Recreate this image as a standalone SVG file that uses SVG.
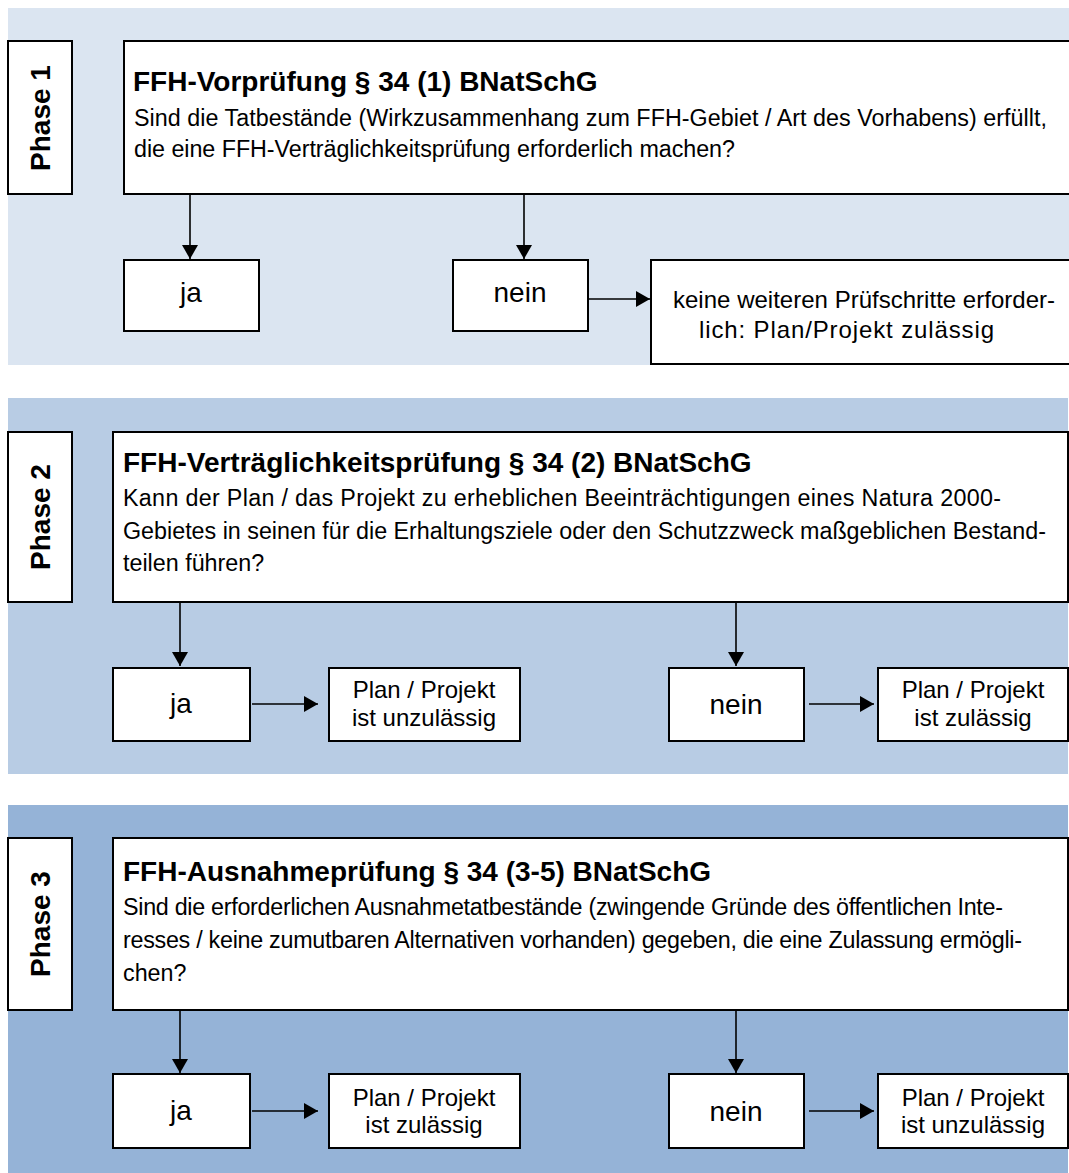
<svg xmlns="http://www.w3.org/2000/svg" width="1069" height="1173" viewBox="0 0 1069 1173">
<style>
.box{fill:#fff;stroke:#000;stroke-width:2}
.t{font-family:"Liberation Sans",Arial,sans-serif;fill:#000}
.title{font-size:28px;font-weight:bold}
.body{font-size:23.3px}
.yn{font-size:28px;text-anchor:middle}
.res{font-size:24px;text-anchor:middle}
.kw{font-size:24px}
.ph{font-size:28px;font-weight:bold;text-anchor:middle}
.con line{stroke:#000;stroke-width:1.6;marker-end:url(#ah)}
</style>
<defs>
<marker id="ah" markerUnits="userSpaceOnUse" markerWidth="14" markerHeight="16" viewBox="0 0 14 16" refX="14" refY="8" orient="auto">
<path d="M0,0 L14,8 L0,16 Z" fill="#000"/>
</marker>
</defs>
<g id="panels">
<rect x="8" y="8" width="1061" height="357" fill="#DBE5F1"/>
<rect x="8" y="398" width="1060" height="376" fill="#B8CCE4"/>
<rect x="8" y="805" width="1060" height="368" fill="#95B3D7"/>
</g>
<g id="phase1-label"><rect class="box" x="8" y="41" width="64" height="153"/><text class="t ph" transform="translate(50,118) rotate(-90)">Phase 1</text></g>
<g id="phase1-main"><rect class="box" x="124" y="41" width="960" height="153"/>
<text class="t title" x="133" y="91">FFH-Vorprüfung § 34 (1) BNatSchG</text>
<text class="t body" x="134" y="126" textLength="913">Sind die Tatbestände (Wirkzusammenhang zum FFH-Gebiet / Art des Vorhabens) erfüllt,</text>
<text class="t body" x="134" y="157" textLength="601">die eine FFH-Verträglichkeitsprüfung erforderlich machen?</text></g>
<g id="phase1-ja"><rect class="box" x="124" y="260" width="135" height="71"/><text class="t yn" x="191" y="302">ja</text></g>
<g id="phase1-nein"><rect class="box" x="453" y="260" width="135" height="71"/><text class="t yn" x="520" y="302">nein</text></g>
<g id="phase1-keine"><rect class="box" x="651" y="260" width="430" height="104"/>
<text class="t kw" x="673" y="308" textLength="382">keine weiteren Prüfschritte erforder-</text>
<text class="t kw" x="699" y="338" textLength="295">lich: Plan/Projekt zulässig</text></g>

<g id="phase2-label"><rect class="box" x="8" y="432" width="64" height="170"/><text class="t ph" transform="translate(50,517) rotate(-90)">Phase 2</text></g>
<g id="phase2-main"><rect class="box" x="113" y="432" width="955" height="170"/>
<text class="t title" x="123" y="472">FFH-Verträglichkeitsprüfung § 34 (2) BNatSchG</text>
<text class="t body" x="123" y="506" textLength="878">Kann der Plan / das Projekt zu erheblichen Beeinträchtigungen eines Natura 2000-</text>
<text class="t body" x="123" y="539" textLength="923">Gebietes in seinen für die Erhaltungsziele oder den Schutzzweck maßgeblichen Bestand-</text>
<text class="t body" x="123" y="571">teilen führen?</text></g>
<g id="phase2-ja"><rect class="box" x="113" y="668" width="137" height="73"/><text class="t yn" x="181" y="713">ja</text></g>
<g id="phase2-ja-res"><rect class="box" x="329" y="668" width="191" height="73"/><text class="t res" x="424" y="698">Plan / Projekt</text><text class="t res" x="424" y="726">ist unzulässig</text></g>
<g id="phase2-nein"><rect class="box" x="669" y="668" width="135" height="73"/><text class="t yn" x="736" y="714">nein</text></g>
<g id="phase2-nein-res"><rect class="box" x="878" y="668" width="190" height="73"/><text class="t res" x="973" y="698">Plan / Projekt</text><text class="t res" x="973" y="726">ist zulässig</text></g>

<g id="phase3-label"><rect class="box" x="8" y="838" width="64" height="172"/><text class="t ph" transform="translate(50,924) rotate(-90)">Phase 3</text></g>
<g id="phase3-main"><rect class="box" x="113" y="838" width="955" height="172"/>
<text class="t title" x="123" y="881">FFH-Ausnahmeprüfung § 34 (3-5) BNatSchG</text>
<text class="t body" x="123" y="915" textLength="880">Sind die erforderlichen Ausnahmetatbestände (zwingende Gründe des öffentlichen Inte-</text>
<text class="t body" x="123" y="948" textLength="899">resses / keine zumutbaren Alternativen vorhanden) gegeben, die eine Zulassung ermögli-</text>
<text class="t body" x="123" y="981">chen?</text></g>
<g id="phase3-ja"><rect class="box" x="113" y="1074" width="137" height="74"/><text class="t yn" x="181" y="1120">ja</text></g>
<g id="phase3-ja-res"><rect class="box" x="329" y="1074" width="191" height="74"/><text class="t res" x="424" y="1106">Plan / Projekt</text><text class="t res" x="424" y="1133">ist zulässig</text></g>
<g id="phase3-nein"><rect class="box" x="669" y="1074" width="135" height="74"/><text class="t yn" x="736" y="1121">nein</text></g>
<g id="phase3-nein-res"><rect class="box" x="878" y="1074" width="190" height="74"/><text class="t res" x="973" y="1106">Plan / Projekt</text><text class="t res" x="973" y="1133">ist unzulässig</text></g>

<g id="connectors" class="con">
<line x1="190" y1="195" x2="190" y2="259"/>
<line x1="524" y1="195" x2="524" y2="259"/>
<line x1="588" y1="299" x2="650" y2="299"/>
<line x1="180" y1="603" x2="180" y2="666"/>
<line x1="736" y1="603" x2="736" y2="666"/>
<line x1="252" y1="704" x2="318" y2="704"/>
<line x1="809" y1="704" x2="874" y2="704"/>
<line x1="180" y1="1011" x2="180" y2="1073"/>
<line x1="736" y1="1011" x2="736" y2="1073"/>
<line x1="252" y1="1111" x2="318" y2="1111"/>
<line x1="809" y1="1111" x2="874" y2="1111"/>
</g>
</svg>
